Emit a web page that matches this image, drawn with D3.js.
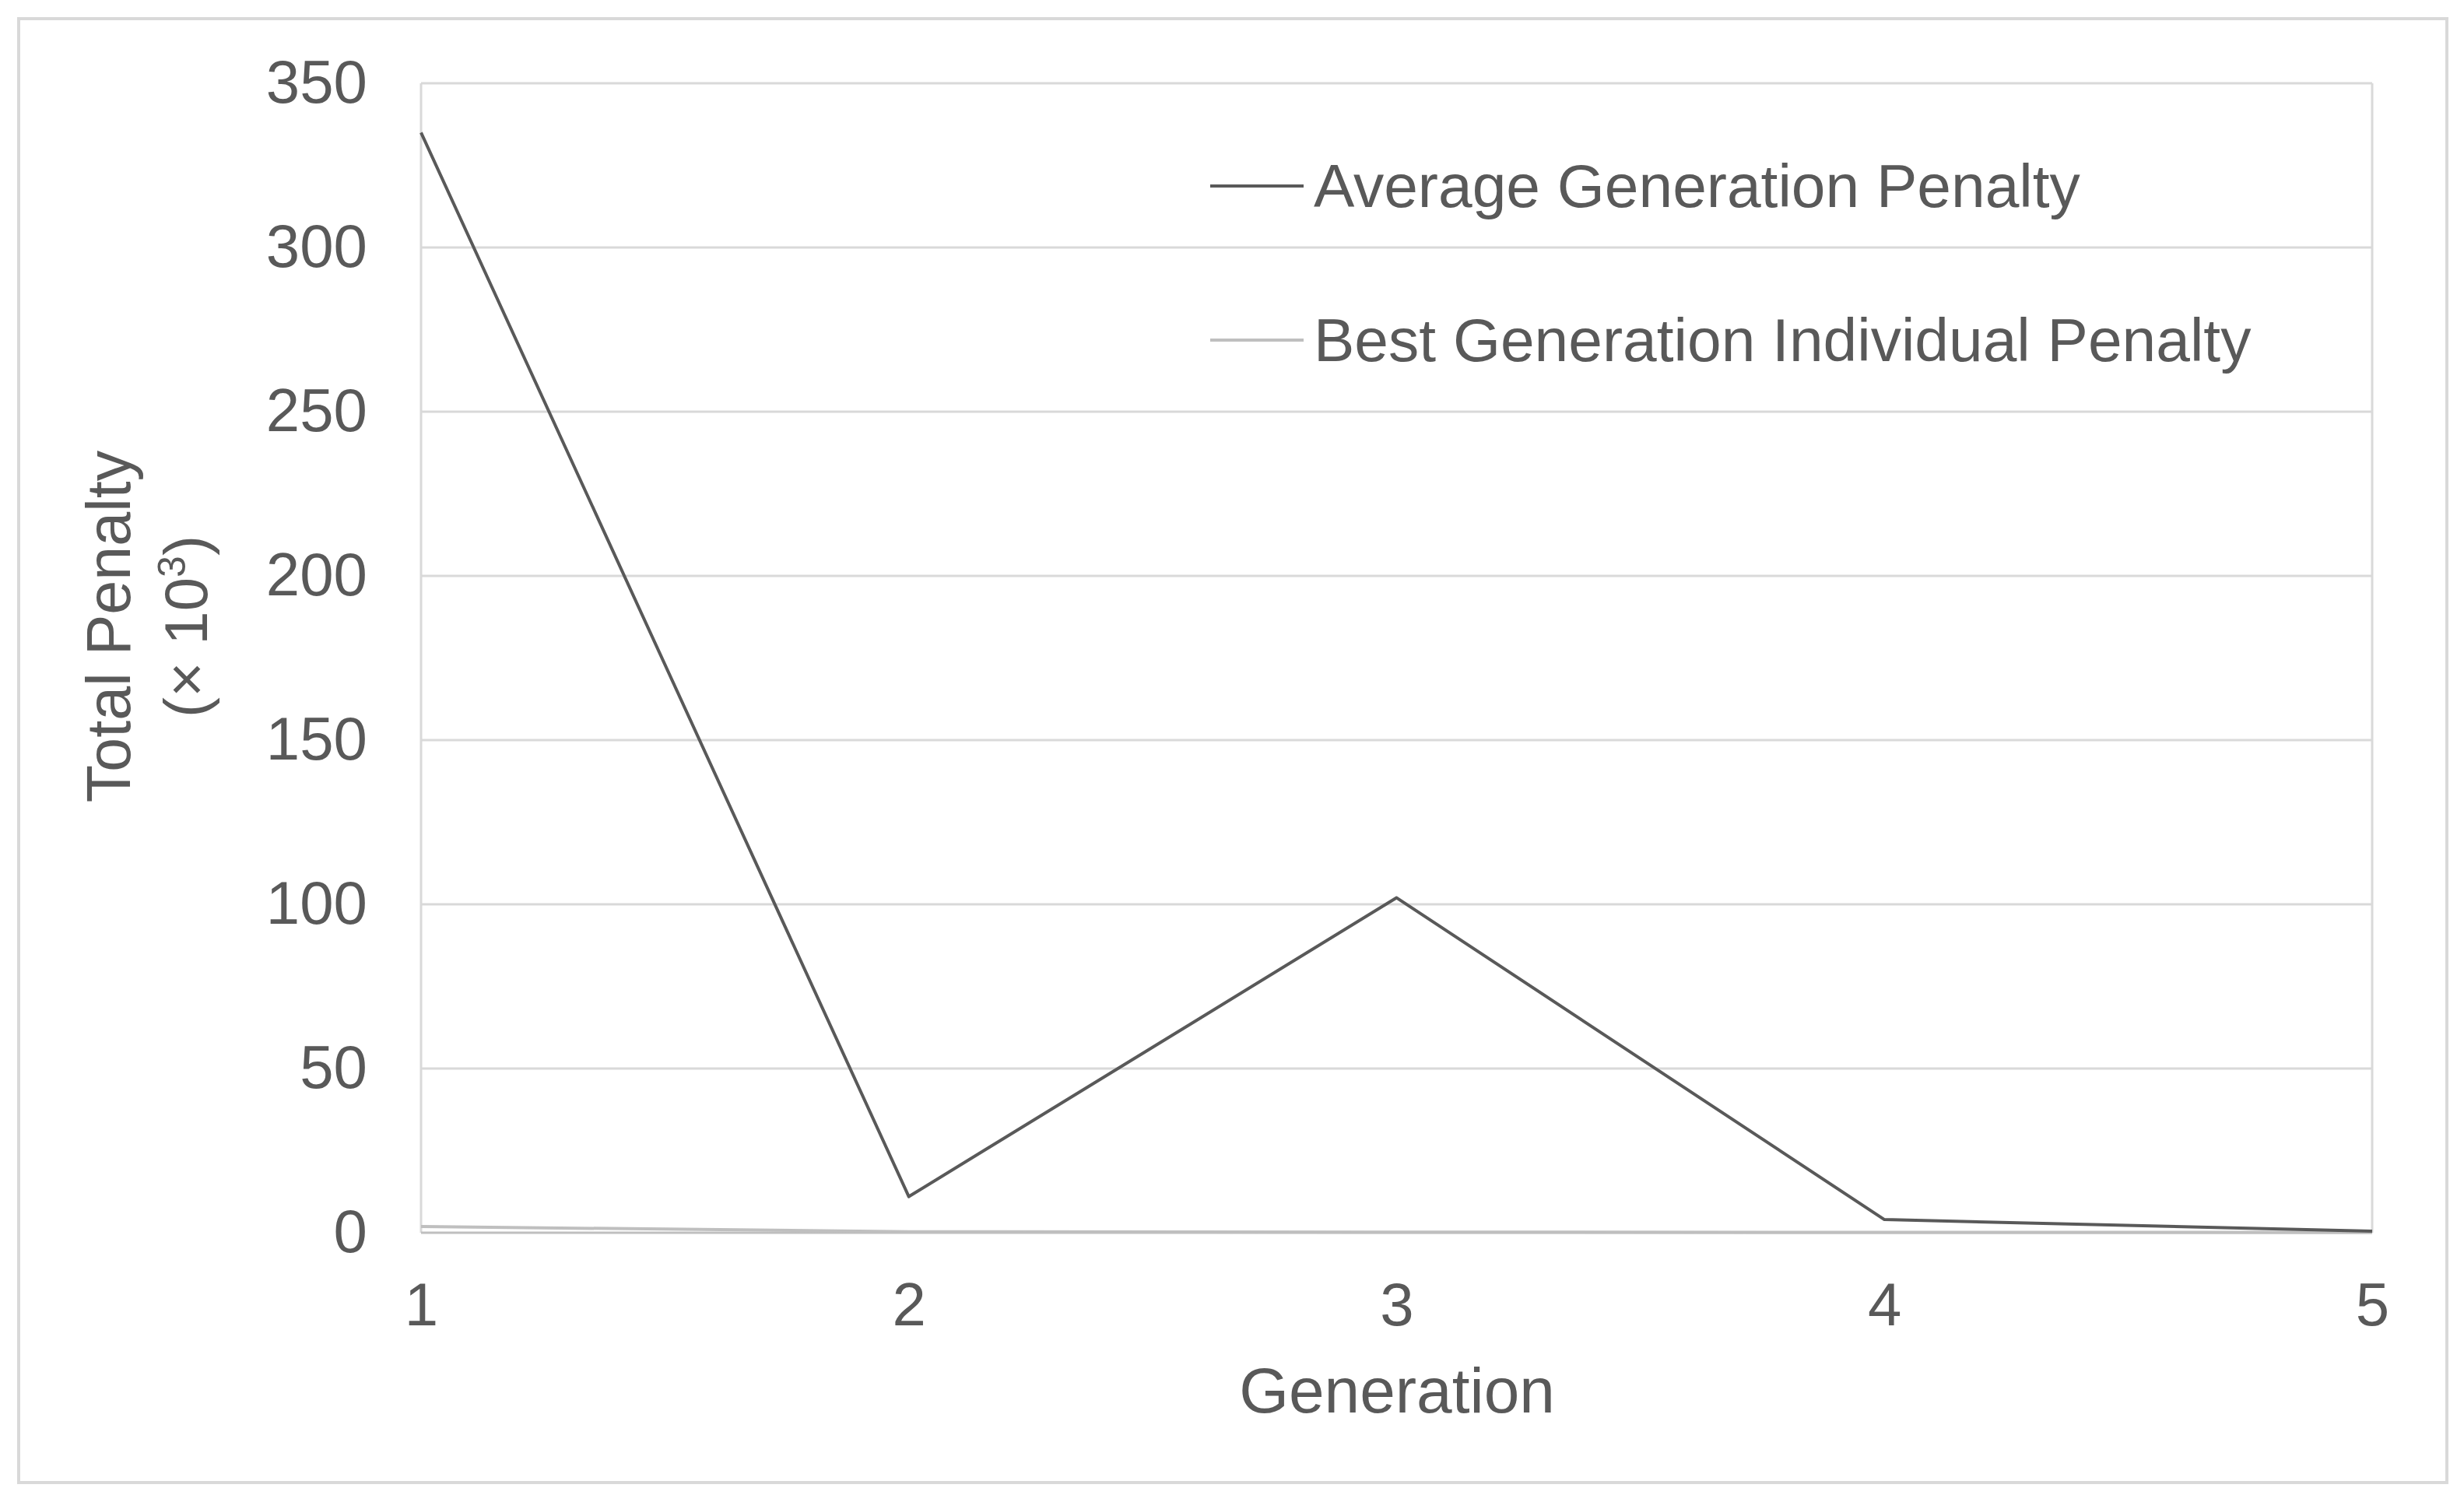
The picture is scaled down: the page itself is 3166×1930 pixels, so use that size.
<!DOCTYPE html>
<html>
<head>
<meta charset="utf-8">
<script src="https://cdn.jsdelivr.net/npm/d3@7"></script>
<style>
  html, body { margin: 0; padding: 0; background: #ffffff; }
  svg { display: block; font-family: "Liberation Sans", Arial, sans-serif; }
</style>
</head>
<body>
<svg id="chart" width="3166" height="1930"></svg>
<script>
const generations = [1, 2, 3, 4, 5];
const averagePenalty = [335, 11, 102, 4, 0.5];
const bestPenalty = [1.9, 0.3, 0.2, 0.1, 0.1];
const yTicks = [0, 50, 100, 150, 200, 250, 300, 350];
const seriesNames = ["Average Generation Penalty", "Best Generation Individual Penalty"];
const seriesColors = ["#595959", "#BFBFBF"];

const svg = d3.select("#chart");
const plot = { left: 541, right: 3048, top: 107, bottom: 1584 };

// outer chart border
svg.append("rect")
  .attr("x", 24).attr("y", 24)
  .attr("width", 3120).attr("height", 1881)
  .attr("fill", "#ffffff")
  .attr("stroke", "#D9D9D9").attr("stroke-width", 4);

const x = d3.scaleLinear().domain([1, 5]).range([plot.left, plot.right]);
const y = d3.scaleLinear().domain([0, 350]).range([plot.bottom, plot.top]);

// gridlines
svg.append("g").selectAll("line").data(yTicks.filter(d => d > 0)).join("line")
  .attr("x1", plot.left).attr("x2", plot.right)
  .attr("y1", d => y(d)).attr("y2", d => y(d))
  .attr("stroke", "#D9D9D9").attr("stroke-width", 3);

// plot side borders
svg.append("line").attr("x1", plot.left).attr("x2", plot.left)
  .attr("y1", plot.top).attr("y2", plot.bottom)
  .attr("stroke", "#D9D9D9").attr("stroke-width", 3);
svg.append("line").attr("x1", plot.right).attr("x2", plot.right)
  .attr("y1", plot.top).attr("y2", plot.bottom)
  .attr("stroke", "#D9D9D9").attr("stroke-width", 3);

// x axis line
svg.append("line").attr("x1", plot.left).attr("x2", plot.right)
  .attr("y1", y(0)).attr("y2", y(0))
  .attr("stroke", "#BFBFBF").attr("stroke-width", 3);

// y axis labels
const yAxis = d3.axisLeft(y).tickValues(yTicks).tickSize(0).tickPadding(69).tickFormat(d3.format("d"));
const gy = svg.append("g").attr("transform", `translate(${plot.left},0)`).call(yAxis);
gy.select(".domain").remove();
gy.selectAll("text").attr("font-size", 78).attr("fill", "#595959")
  .attr("font-family", '"Liberation Sans", Arial, sans-serif');

// x axis labels
const xAxis = d3.axisBottom(x).tickValues(generations).tickSize(0).tickPadding(64).tickFormat(d3.format("d"));
const gx = svg.append("g").attr("transform", `translate(0,${plot.bottom})`).call(xAxis);
gx.select(".domain").remove();
gx.selectAll("text").attr("font-size", 78).attr("fill", "#595959")
  .attr("font-family", '"Liberation Sans", Arial, sans-serif');

// lines
const line = d3.line().x((d, i) => x(generations[i])).y(d => y(d));
svg.append("path").datum(bestPenalty).attr("d", line)
  .attr("fill", "none").attr("stroke", seriesColors[1]).attr("stroke-width", 4)
  .attr("stroke-linejoin", "round");
svg.append("path").datum(averagePenalty).attr("d", line)
  .attr("fill", "none").attr("stroke", seriesColors[0]).attr("stroke-width", 4)
  .attr("stroke-linejoin", "round");

// axis titles
svg.append("text").attr("x", 1795).attr("y", 1815)
  .attr("text-anchor", "middle").attr("font-size", 82).attr("fill", "#595959")
  .text("Generation");

const yt = svg.append("g").attr("transform", "translate(0,805) rotate(-90)");
yt.append("text").attr("x", 0).attr("y", 167)
  .attr("text-anchor", "middle").attr("font-size", 79).attr("fill", "#595959")
  .text("Total Penalty");
const t2 = yt.append("text").attr("x", 0).attr("y", 266)
  .attr("text-anchor", "middle").attr("font-size", 78).attr("fill", "#595959");
t2.append("tspan").text("(× 10");
t2.append("tspan").attr("font-size", 50).attr("dy", -28).text("3");
t2.append("tspan").attr("dy", 28).text(")");

// legend
const legendY = [239, 437];
const lg = svg.append("g");
seriesNames.forEach((name, i) => {
  lg.append("line").attr("x1", 1555).attr("x2", 1675)
    .attr("y1", legendY[i]).attr("y2", legendY[i])
    .attr("stroke", seriesColors[i]).attr("stroke-width", 4);
  lg.append("text").attr("x", 1688).attr("y", legendY[i])
    .attr("dy", "0.35em").attr("font-size", 78.5).attr("fill", "#595959")
    .text(name);
});
</script>
</body>
</html>
